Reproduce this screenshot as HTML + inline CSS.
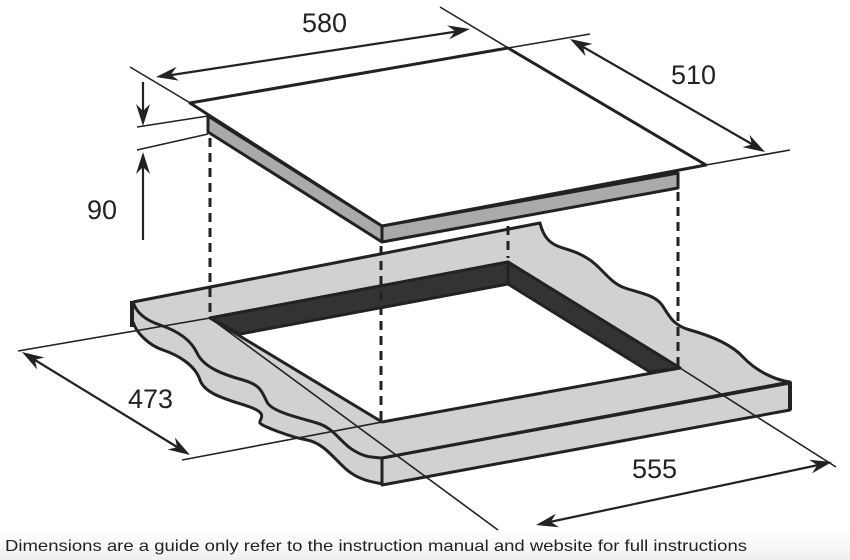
<!DOCTYPE html>
<html><head><meta charset="utf-8"><style>
html,body{margin:0;padding:0;background:#fff;}
svg{display:block;}
text{font-family:"Liberation Sans",sans-serif;fill:#222;}
</style></head><body>
<svg width="850" height="560" viewBox="0 0 850 560" xmlns="http://www.w3.org/2000/svg">
<defs>
<linearGradient id="bg" x1="0" y1="0" x2="0" y2="1"><stop offset="0" stop-color="#fff"/><stop offset="1" stop-color="#f0f0f0"/></linearGradient>
</defs>
<rect x="0" y="530" width="850" height="30" fill="url(#bg)"/>

<!-- left thickness band fill -->
<path d="M132,302 L133,322 C136,332 148,345 163,350 S195,365 200,380 S230,400 250,407 S258,420 260,423 S290,437 307,440 S335,460 347,470 S372,482 383,484 L382,458 Z" fill="#d0d1d3" stroke="#d0d1d3" stroke-width="1.5"/>
<!-- front thickness band -->
<path d="M382,458 L790,383 L790,410 L382,485 Z" fill="#d0d1d3" stroke="#222" stroke-width="3" stroke-linejoin="round"/>
<!-- top surface fill -->
<path d="M133,302 L540,223 C543,235 548,243 560,247 S578,252 590,260 S610,283 625,288 S655,295 662,305 S672,325 690,330 S730,343 743,357 S775,380 790,382 L382,458 Z" fill="#d0d1d3" stroke="#d0d1d3" stroke-width="1.5"/>
<!-- top surface outline (open) -->
<path d="M133,302 L540,223 C543,235 548,243 560,247 S578,252 590,260 S610,283 625,288 S655,295 662,305 S672,325 690,330 S730,343 743,357 S775,380 790,382 L382,458" fill="none" stroke="#222" stroke-width="3" stroke-linejoin="round"/>
<!-- left waves -->
<g fill="none" stroke="#222" stroke-width="3">
<path d="M133,302 C136,312 145,320 160,325 S190,338 197,353 S225,375 243,380 S262,392 267,402 S300,418 317,423 S340,442 353,450 S372,457 382,458"/>
<path d="M133,322 C136,332 148,345 163,350 S195,365 200,380 S230,400 250,407 S258,420 260,423 S290,437 307,440 S335,460 347,470 S372,482 383,484"/>
</g>
<!-- hole -->
<path d="M210,318 L508,262 L680,368 L382,422 Z" fill="#fff" stroke="#222" stroke-width="3" stroke-linejoin="round"/>
<g stroke="#222" stroke-width="3" stroke-linejoin="round">
<path d="M210,318 L508,262 L508,284 L240,334 Z" fill="#333"/>
<path d="M508,262 L680,368 L650,372 L508,284 Z" fill="#333"/>
</g>
<path d="M132,301 L132,327 M790,382 L790,410" stroke="#222" stroke-width="4"/>

<!-- top hob -->
<g stroke="#222" stroke-width="3" stroke-linejoin="round">
<path d="M208,116 L382,226 L382,242 L208,132 Z" fill="#a9aaac"/>
<path d="M382,226 L678,173 L678,188 L382,242 Z" fill="#a9aaac"/>
<path d="M190,103 L508,48 L706,165 L382,226 Z" fill="#fff"/>
</g>

<!-- dashed projection lines -->
<g stroke="#222" stroke-width="3" stroke-dasharray="9,6" fill="none">
<line x1="210" y1="138" x2="210" y2="316"/>
<line x1="381" y1="246" x2="381" y2="420"/>
<line x1="678" y1="192" x2="678" y2="366"/>
<line x1="508" y1="226" x2="508" y2="258"/>
</g>

<!-- extension lines -->
<g stroke="#222" stroke-width="1.6" fill="none">
<line x1="130" y1="67" x2="192" y2="104"/>
<line x1="440" y1="7" x2="510" y2="49"/>
<line x1="508" y1="48" x2="590" y2="34"/>
<line x1="706" y1="165" x2="790" y2="150"/>
<line x1="137" y1="127" x2="208" y2="116"/>
<line x1="137" y1="150" x2="208" y2="134"/>
<line x1="18" y1="351" x2="210" y2="318"/>
<line x1="182" y1="460" x2="382" y2="422"/>
<line x1="210" y1="318" x2="498" y2="530"/>
<line x1="680" y1="368" x2="836" y2="467"/>
</g>
<!-- arrows -->
<g stroke="#222" stroke-width="2.2" fill="none">
<line x1="165" y1="76" x2="460" y2="31"/>
<line x1="578" y1="44" x2="757" y2="147"/>
<line x1="143" y1="82" x2="143" y2="115"/>
<line x1="143" y1="240" x2="143" y2="163"/>
<line x1="30" y1="357" x2="182" y2="450"/>
<line x1="545" y1="523" x2="823" y2="464"/>
</g>
<g fill="#222">
<path d="M470,29 L449.3,39.2 L455.2,31.3 L447.1,25.4 Z"/>
<path d="M156,77 L178.9,80.6 L170.8,74.7 L176.7,66.8 Z"/>
<path d="M765,152 L742.5,147.1 L752,144.5 L749.5,134.9 Z"/>
<path d="M570,39 L585.5,56.1 L583,46.5 L592.5,43.9 Z"/>
<path d="M143,126 L136,104 L143,111 L150,104 Z"/>
<path d="M143,152 L136,174 L143,167 L150,174 Z"/>
<path d="M190,455 L167.5,449.5 L177.2,447.2 L174.9,437.5 Z"/>
<path d="M22,352 L37.1,369.5 L34.8,359.8 L44.5,357.5 Z"/>
<path d="M832,462 L812,473.4 L817.3,465.1 L809,459.8 Z"/>
<path d="M536,525 L559,527.2 L550.7,521.9 L556,513.6 Z"/>
</g>

<text x="302" y="32" font-size="27">580</text>
<text x="671" y="84" font-size="27">510</text>
<text x="87" y="219" font-size="27">90</text>
<text x="128" y="408" font-size="27">473</text>
<text x="632" y="478" font-size="27">555</text>
<text x="5" y="551" font-size="16" textLength="742" lengthAdjust="spacingAndGlyphs">Dimensions are a guide only refer to the instruction manual and website for full instructions</text>
</svg>
</body></html>
